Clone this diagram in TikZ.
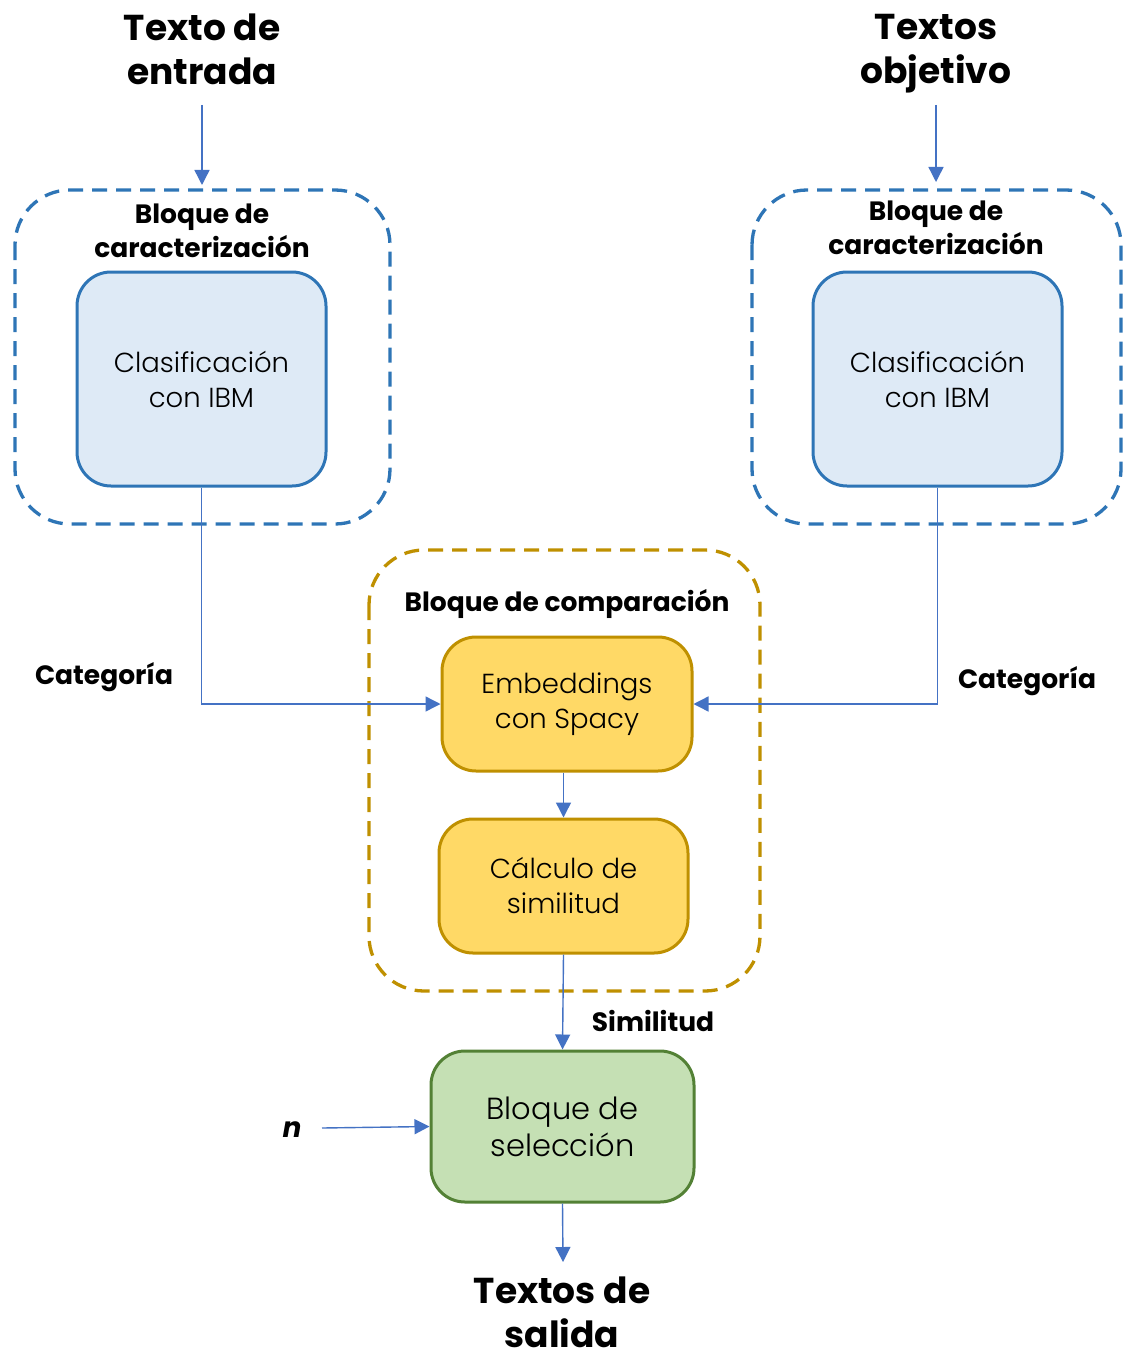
\documentclass[tikz,border=0pt]{standalone}
\usepackage{fontspec}
\setmainfont{Poppins}
\newfontfamily\lightfont{Poppins Light}
\usetikzlibrary{arrows.meta}
\definecolor{blueedge}{HTML}{2E75B6}
\definecolor{bluefill}{HTML}{DEEAF6}
\definecolor{goldedge}{HTML}{BF9000}
\definecolor{goldfill}{HTML}{FFD966}
\definecolor{greenedge}{HTML}{538135}
\definecolor{greenfill}{HTML}{C5E0B4}
\definecolor{wire}{HTML}{4472C4}
\tikzset{
  group/.style={draw, line width=3.3pt, dash pattern=on 15pt off 9pt, rounded corners=55pt},
  procbox/.style={draw, line width=3pt, rounded corners=34pt, align=center,
    font=\lightfont\fontsize{27.5}{35}\selectfont},
  title/.style={align=center, font=\bfseries\fontsize{36}{44}\selectfont},
  grouptitle/.style={align=center, font=\bfseries\fontsize{26.5}{34.5}\selectfont},
  wirelabel/.style={font=\bfseries\fontsize{26.5}{30}\selectfont},
  flow/.style={draw=wire, line width=1.4pt, -{Triangle[length=15pt,width=15pt]}},
}
\begin{document}
\begin{tikzpicture}[x=1pt,y=-1pt]
\useasboundingbox (0,0) rectangle (1126,1356);
\fill[white] (0,0) rectangle (1126,1356);

% input and target texts
\node[title] (in) at (202,49) {Texto de\\entrada};
\node[title] (tgt) at (936,54) {Textos\\objetivo};

% characterisation groups
\draw[group, blueedge] (15,190) rectangle (390,524);
\draw[group, blueedge] (752,190) rectangle (1121,524);
\node[grouptitle] (lt) at (202,231) {Bloque de\\caracterización};
\node[grouptitle] (rt) at (936,228) {Bloque de\\caracterización};
\node[procbox, draw=blueedge, fill=bluefill, minimum width=249pt, minimum height=214pt] (ibmL) at (201.5,379) {Clasificación\\con IBM};
\node[procbox, draw=blueedge, fill=bluefill, minimum width=249pt, minimum height=214pt] (ibmR) at (937.5,379) {Clasificación\\con IBM};

\coordinate (inEnd) at (202,185);
\coordinate (tgtEnd) at (936,182);
\draw[flow] (202,105) -- (inEnd);
\draw[flow] (936,105) -- (tgtEnd);

% comparison group
\draw[group, goldedge] (369,550) rectangle (760,991);
\node[grouptitle] (ct) at (567,604) {Bloque de comparación};
\node[procbox, draw=goldedge, fill=goldfill, minimum width=250pt, minimum height=134pt] (emb) at (567,704) {Embeddings\\con Spacy};
\node[procbox, draw=goldedge, fill=goldfill, minimum width=249pt, minimum height=134pt] (sim) at (563.5,886) {Cálculo de\\similitud};

% selection block
\node[procbox, draw=greenedge, fill=greenfill, minimum width=263pt, minimum height=151pt, font=\lightfont\fontsize{30.5}{37}\selectfont] (sel) at (562.5,1126.5) {Bloque de\\selección};

\node[font=\bfseries\itshape\fontsize{28}{30}\selectfont] (n) at (292,1130) {n};
\node[title, inner sep=0pt] (out) at (562,1312) {Textos de\\salida};

% connectors
\draw[flow] (ibmL.south) |- (emb.west);
\draw[flow] (ibmR.south) |- (emb.east);
\draw[flow] (emb.south -| sim.north) -- (sim.north);
\draw[flow] (sim.south) -- (sel.north);
\draw[flow] (322,1128) -- (sel.west);
\coordinate (outEnd) at (563,1262);
\draw[flow] (sel.south) -- (outEnd);

% connector labels
\node[wirelabel] (catL) at (104,677) {Categoría};
\node[wirelabel] (catR) at (1027,681) {Categoría};
\node[wirelabel] (simL) at (653,1021) {Similitud};
\end{tikzpicture}
\end{document}
